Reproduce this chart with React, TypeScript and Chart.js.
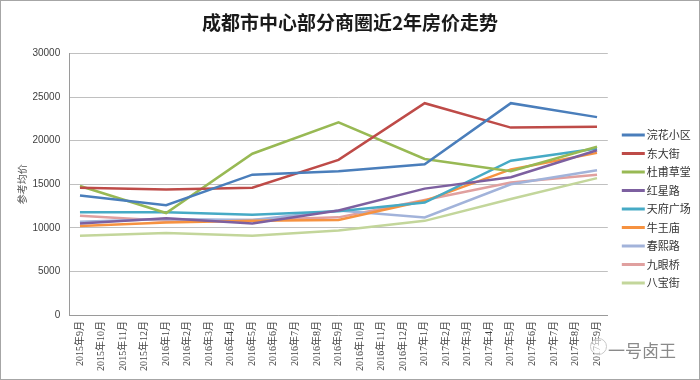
import { useEffect, useRef } from 'react';
import { Chart, registerables } from 'chart.js';

Chart.register(...registerables);

const N = null;

const categories = [
  '2015年9月', '2015年10月', '2015年11月', '2015年12月',
  '2016年1月', '2016年2月', '2016年3月', '2016年4月', '2016年5月', '2016年6月',
  '2016年7月', '2016年8月', '2016年9月', '2016年10月', '2016年11月', '2016年12月',
  '2017年1月', '2017年2月', '2017年3月', '2017年4月', '2017年5月', '2017年6月',
  '2017年7月', '2017年8月', '2017年9月',
];

const huanhuaXiaoqu = [13700, N, N, N, 12600, N, N, N, 16100, N, N, N, 16500, N, N, N, 17300, N, N, N, 24300, N, N, N, 22700];
const dongDajie = [14600, N, N, N, 14400, N, N, N, 14600, N, N, N, 17800, N, N, N, 24300, N, N, N, 21500, N, N, N, 21600];
const dufuCaotang = [14800, N, N, N, 11700, N, N, N, 18500, N, N, N, 22100, N, N, N, 17900, N, N, N, 16500, N, N, N, 19300];
const hongxingLu = [10500, N, N, N, 11100, N, N, N, 10500, N, N, N, 12000, N, N, N, 14500, N, N, N, 15800, N, N, N, 18900];
const tianfuGuangchang = [11800, N, N, N, 11800, N, N, N, 11500, N, N, N, 11900, N, N, N, 12900, N, N, N, 17700, N, N, N, 19100];
const niuwangMiao = [10200, N, N, N, 10600, N, N, N, 10800, N, N, N, 10900, N, N, N, 13100, N, N, N, 16700, N, N, N, 18600];
const chunxiLu = [10700, N, N, N, 11000, N, N, N, 10900, N, N, N, 12000, N, N, N, 11200, N, N, N, 15000, N, N, N, 16600];
const jiuyanQiao = [11400, N, N, N, 10800, N, N, N, 10900, N, N, N, 11200, N, N, N, 13200, N, N, N, 15200, N, N, N, 16100];
const babaoJie = [9100, N, N, N, 9400, N, N, N, 9100, N, N, N, 9700, N, N, N, 10800, N, N, N, 13300, N, N, N, 15700];

const seriesNames = ['浣花小区', '东大街', '杜甫草堂', '红星路', '天府广场', '牛王庙', '春熙路', '九眼桥', '八宝街'];
const seriesValues = [huanhuaXiaoqu, dongDajie, dufuCaotang, hongxingLu, tianfuGuangchang, niuwangMiao, chunxiLu, jiuyanQiao, babaoJie];
const seriesColors = ['#4A7EBB', '#BE4B48', '#98B954', '#7D60A0', '#46AAC5', '#F69240', '#A2B3DA', '#E0A09F', '#C3D69B'];

const yTicks = [0, 5000, 10000, 15000, 20000, 25000, 30000];

const titleText = '成都市中心部分商圈近2年房价走势';
const yTitle = '参考均价';
const watermark = '一号卤王';

const CJK = '"Noto Sans CJK SC", "Liberation Sans", sans-serif';

const sideLegend = {
  id: 'sideLegend',
  afterDraw(chart: any) {
    const { ctx, chartArea } = chart;
    const x0 = chartArea.right + 14;
    const y0 = 134;
    const step = 18.5;
    ctx.save();
    ctx.font = '11px ' + CJK;
    ctx.textBaseline = 'middle';
    ctx.textAlign = 'left';
    chart.data.datasets.forEach((ds: any, i: number) => {
      const y = y0 + i * step;
      ctx.strokeStyle = ds.borderColor;
      ctx.lineWidth = 3;
      ctx.beginPath();
      ctx.moveTo(x0, y);
      ctx.lineTo(x0 + 23, y);
      ctx.stroke();
      ctx.fillStyle = '#333333';
      ctx.fillText(ds.label, x0 + 25, y);
    });
    ctx.restore();
  },
};

export default function App() {
  const ref = useRef<HTMLCanvasElement>(null);

  useEffect(() => {
    if (!ref.current) return;
    const chart = new Chart(ref.current, {
      type: 'line',
      data: {
        labels: categories,
        datasets: seriesNames.map((name, i) => ({
          label: name,
          data: seriesValues[i],
          borderColor: seriesColors[i],
          backgroundColor: seriesColors[i],
          borderWidth: 2.5,
          pointRadius: 0,
          pointHoverRadius: 0,
          tension: 0,
          spanGaps: true,
          fill: false,
          yAxisID: 'y',
        })),
      },
      options: {
        responsive: false,
        animation: false,
        devicePixelRatio: 1,
        layout: { padding: 0 },
        plugins: {
          legend: { display: false },
          tooltip: { enabled: false },
          title: {
            display: true,
            text: titleText,
            color: '#1a1a1a',
            font: { family: CJK, size: 19, weight: 'bold' },
            padding: { top: 10, bottom: 19.7 },
          },
        },
        scales: {
          x: {
            offset: true,
            grid: { display: true, drawOnChartArea: false, drawTicks: false },
            border: { display: true, color: '#9a9a9a', width: 1 },
            ticks: {
              autoSkip: false,
              maxRotation: 90,
              minRotation: 90,
              padding: 6,
              color: '#444444',
              font: { family: '"Liberation Serif", "Noto Sans CJK SC", serif', size: 10 },
            },
            afterFit: (scale: any) => {
              scale.height = 64;
            },
          },
          y: {
            position: 'left',
            min: 0,
            max: 30000,
            afterBuildTicks: (scale: any) => {
              scale.ticks = yTicks.map((v) => ({ value: v }));
            },
            grid: { color: '#c0c0c0', lineWidth: 1, drawTicks: false },
            border: { display: true, color: '#9a9a9a', width: 1 },
            ticks: {
              padding: 9,
              color: '#404040',
              font: { family: '"Liberation Sans", Arial, sans-serif', size: 10 },
              callback: (v: any) => String(v),
            },
            title: {
              display: true,
              text: yTitle,
              color: '#555555',
              font: { family: CJK, size: 10 },
              padding: { top: 15, bottom: 4 },
            },
            afterFit: (scale: any) => {
              scale.width = 68.2;
            },
          },
          legendSpace: {
            type: 'linear',
            position: 'right',
            display: true,
            grid: { display: false, drawOnChartArea: false, drawTicks: false },
            border: { display: false },
            ticks: { display: false },
            afterFit: (scale: any) => {
              scale.width = 91.2;
            },
          },
        },
      },
      plugins: [sideLegend],
    });
    return () => chart.destroy();
  }, []);

  return (
    <div
      style={{
        position: 'absolute',
        left: 0,
        top: 0,
        width: 700,
        height: 380,
        boxSizing: 'border-box',
        border: '1px solid #a6a6a6',
        background: '#ffffff',
        overflow: 'hidden',
      }}
    >
      <canvas ref={ref} width={698} height={378} style={{ display: 'block', width: 698, height: 378 }} />
      <div
        style={{
          position: 'absolute',
          left: 589,
          top: 337,
          width: 15,
          height: 15,
          borderRadius: '50%',
          border: '1px solid #c8c8c8',
          background: 'rgba(255,255,255,0.6)',
        }}
      />
      <span
        style={{
          position: 'absolute',
          left: 607,
          top: 339,
          fontFamily: CJK,
          fontSize: 17,
          lineHeight: '20px',
          color: '#8a8a8a',
          whiteSpace: 'nowrap',
        }}
      >
        {watermark}
      </span>
    </div>
  );
}
